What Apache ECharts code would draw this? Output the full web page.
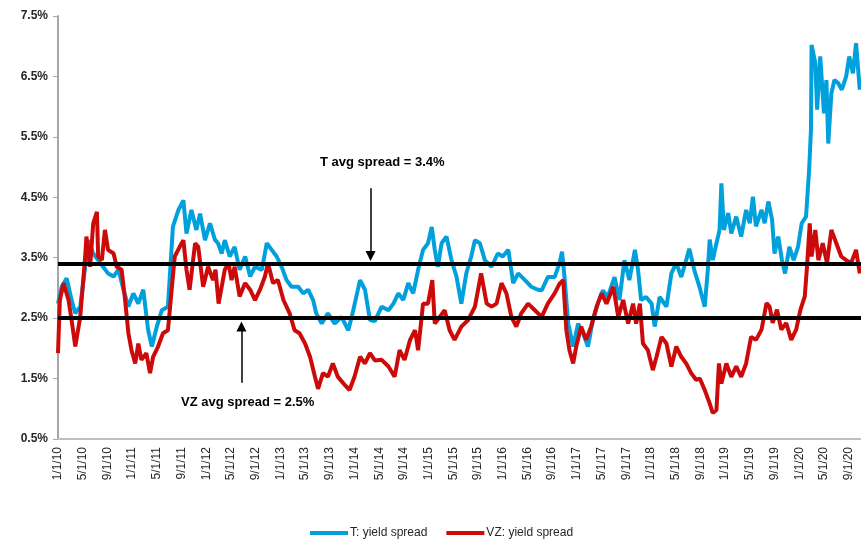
<!DOCTYPE html>
<html>
<head>
<meta charset="utf-8">
<script src="https://cdn.jsdelivr.net/npm/echarts@6/dist/echarts.min.js"></script>
<style>
html, body { margin: 0; padding: 0; background: #fff; }
#chart { width: 861px; height: 540px; }
</style>
</head>
<body>
<div id="chart"></div>
<script>
// x values are months counted from 1/1/10
const tMonth = [
  0, 0.6, 1.4, 2.2, 2.8, 3.6, 4.4, 4.9, 5.7, 6.5,
  7.3, 8.1, 9.0, 9.8, 10.6, 11.4, 12.2, 13.0, 13.8, 14.6,
  15.2, 16.0, 16.8, 17.8, 18.6, 19.5, 20.3, 20.8, 21.6, 22.4,
  23.0, 23.8, 24.6, 25.4, 25.9, 26.5, 27.0, 27.8, 28.6, 29.4,
  30.3, 31.1, 31.9, 33.0, 33.8, 34.6, 35.4, 36.2, 37.0, 37.8,
  38.9, 39.7, 40.5, 41.3, 41.8, 42.7, 43.7, 44.8, 45.9, 47.0,
  47.8, 48.9, 49.7, 50.5, 51.3, 52.4, 53.5, 54.3, 55.1, 55.9,
  56.7, 57.5, 58.3, 59.1, 59.9, 60.5, 61.0, 61.5, 62.1, 62.9,
  63.7, 64.5, 65.3, 66.1, 66.9, 67.5, 68.3, 69.1, 70.2, 71.2,
  72.0, 72.9, 73.7, 74.5, 75.6, 76.6, 77.7, 78.3, 79.3, 80.4,
  81.2, 81.6, 82.0, 82.6, 83.4, 84.2, 85.0, 85.8, 86.6, 87.4,
  88.2, 89.0, 90.1, 90.9, 91.7, 92.5, 93.4, 93.9, 94.4, 95.2,
  96.1, 96.6, 97.4, 98.5, 99.3, 100.1, 100.9, 101.7, 102.2, 103.0,
  103.9, 104.7, 105.2, 105.5, 106.0, 106.6, 107.1, 107.4, 107.8, 108.5,
  109.0, 109.8, 110.6, 111.4, 112.0, 112.5, 113.0, 113.9, 114.4, 115.0,
  115.6, 116.0, 116.6, 117.2, 117.7, 118.4, 119.1, 119.8, 120.4, 121.1,
  121.6, 121.9, 122.0, 122.6, 122.9, 123.4, 124.0, 124.4, 124.7, 125.2,
  125.7, 126.3, 126.9, 127.6, 128.1, 128.7, 129.2, 129.8
]
const tSpread = [
  2.74, 3.02, 3.16, 2.80, 2.58, 2.69, 3.35, 3.79, 3.57, 3.46,
  3.35, 3.24, 3.19, 3.30, 2.97, 2.69, 2.91, 2.74, 2.97, 2.30,
  2.03, 2.36, 2.63, 2.69, 4.01, 4.29, 4.45, 3.90, 4.29, 3.96,
  4.23, 3.79, 4.07, 3.80, 3.74, 3.57, 3.79, 3.52, 3.68, 3.30,
  3.52, 3.19, 3.35, 3.30, 3.74, 3.63, 3.52, 3.35, 3.13, 3.02,
  3.02, 2.91, 2.97, 2.80, 2.58, 2.41, 2.58, 2.41, 2.52, 2.30,
  2.63, 3.13, 2.97, 2.47, 2.45, 2.69, 2.63, 2.74, 2.91, 2.80,
  3.08, 2.91, 3.30, 3.63, 3.74, 4.01, 3.63, 3.35, 3.74, 3.85,
  3.46, 3.19, 2.74, 3.24, 3.52, 3.79, 3.74, 3.46, 3.35, 3.57,
  3.52, 3.63, 3.08, 3.24, 3.13, 3.02, 2.97, 2.96, 3.18, 3.18,
  3.41, 3.60, 3.18, 2.41, 2.03, 2.41, 2.25, 2.03, 2.47, 2.74,
  2.96, 2.85, 3.18, 2.80, 3.46, 3.13, 3.63, 3.30, 2.80, 2.85,
  2.74, 2.36, 2.85, 2.69, 3.24, 3.41, 3.18, 3.46, 3.65, 3.30,
  3.00, 2.69, 3.30, 3.80, 3.46, 3.74, 3.96, 4.73, 3.96, 4.24,
  3.90, 4.18, 3.85, 4.29, 4.07, 4.51, 4.02, 4.29, 4.07, 4.43,
  4.13, 3.57, 3.85, 3.46, 3.24, 3.68, 3.46, 3.68, 4.07, 4.18,
  4.95, 5.62, 7.02, 6.72, 5.95, 6.83, 5.89, 6.44, 5.39, 6.22,
  6.44, 6.39, 6.28, 6.50, 6.83, 6.55, 7.05, 6.28
]
const vzMonth = [
  0, 0.3, 0.9, 1.7, 2.2, 2.8, 3.6, 4.4, 4.6, 5.2,
  5.7, 6.3, 6.5, 7.1, 7.6, 8.1, 9.0, 9.5, 10.3, 10.8,
  11.4, 11.9, 12.5, 13.0, 13.5, 14.3, 14.9, 15.4, 16.2, 17.0,
  17.8, 18.4, 18.9, 19.7, 20.3, 20.8, 21.3, 22.2, 22.7, 23.5,
  24.3, 25.1, 25.5, 26.0, 27.0, 27.6, 28.1, 28.6, 29.4, 30.3,
  31.1, 31.9, 32.7, 33.5, 34.0, 34.8, 35.6, 36.5, 37.5, 38.3,
  39.1, 40.0, 40.8, 41.6, 42.1, 42.9, 43.7, 44.5, 45.3, 46.2,
  47.2, 48.0, 48.9, 49.7, 50.5, 51.3, 52.4, 53.5, 54.5, 55.3,
  56.1, 57.0, 57.8, 58.3, 59.1, 59.9, 60.6, 61.0, 61.8, 62.6,
  63.4, 64.2, 65.3, 66.4, 67.5, 68.5, 69.4, 70.2, 71.0, 71.8,
  72.6, 73.4, 74.2, 75.0, 76.1, 77.2, 78.3, 79.3, 80.4, 81.2,
  81.8, 82.3, 82.8, 83.4, 83.9, 84.7, 85.5, 86.3, 87.2, 88.0,
  88.8, 89.9, 90.7, 91.5, 92.3, 93.1, 93.6, 94.2, 94.7, 95.5,
  96.3, 96.9, 97.7, 98.5, 99.3, 100.1, 100.9, 101.7, 102.5, 103.3,
  103.9, 104.7, 105.5, 106.0, 106.6, 107.0, 107.4, 108.2, 109.0, 109.8,
  110.6, 111.4, 112.2, 113.0, 113.9, 114.7, 115.2, 115.7, 116.4, 117.1,
  117.9, 118.7, 119.5, 120.2, 120.9, 121.3, 121.7, 122.0, 122.6, 123.1,
  123.8, 124.5, 125.2, 126.0, 126.8, 127.6, 128.4, 129.2, 129.8
]
const vzSpread = [
  1.92, 2.80, 3.08, 2.80, 2.47, 2.03, 2.52, 3.52, 3.85, 3.35,
  4.07, 4.26, 3.52, 3.46, 3.96, 3.63, 3.57, 3.35, 3.30, 2.86,
  2.25, 1.97, 1.75, 2.08, 1.81, 1.92, 1.59, 1.86, 2.03, 2.25,
  2.30, 2.97, 3.52, 3.68, 3.79, 3.30, 2.97, 3.74, 3.68, 3.02,
  3.35, 3.13, 3.30, 2.74, 3.30, 3.41, 3.13, 3.35, 2.86, 3.08,
  2.97, 2.80, 2.97, 3.19, 3.41, 3.08, 3.13, 2.80, 2.58, 2.30,
  2.25, 2.08, 1.86, 1.53, 1.33, 1.59, 1.53, 1.75, 1.53, 1.42,
  1.31, 1.53, 1.86, 1.75, 1.92, 1.80, 1.81, 1.70, 1.53, 1.97,
  1.81, 2.14, 2.30, 1.97, 2.74, 2.74, 3.13, 2.41, 2.52, 2.63,
  2.30, 2.14, 2.36, 2.47, 2.69, 3.24, 2.74, 2.69, 2.74, 3.08,
  2.91, 2.52, 2.36, 2.58, 2.74, 2.63, 2.52, 2.74, 2.91, 3.07,
  3.13, 2.30, 1.97, 1.75, 2.03, 2.36, 2.14, 2.36, 2.69, 2.91,
  2.74, 3.02, 2.52, 2.80, 2.41, 2.74, 2.41, 2.74, 2.08, 1.97,
  1.64, 1.86, 2.19, 2.08, 1.70, 2.03, 1.86, 1.75, 1.59, 1.48,
  1.50, 1.31, 1.09, 0.93, 0.98, 1.75, 1.42, 1.75, 1.53, 1.70,
  1.53, 1.75, 2.19, 2.14, 2.31, 2.75, 2.69, 2.42, 2.64, 2.31,
  2.42, 2.14, 2.31, 2.64, 2.86, 3.41, 4.07, 3.52, 3.96, 3.46,
  3.74, 3.41, 3.96, 3.74, 3.52, 3.46, 3.41, 3.63, 3.24
]

// tick labels
const xTickMonths = [0, 4, 8, 12, 16, 20, 24, 28, 32, 36, 40, 44, 48, 52, 56, 60, 64,
  68, 72, 76, 80, 84, 88, 92, 96, 100, 104, 108, 112, 116, 120, 124, 128]
const yTicks = [0.5, 1.5, 2.5, 3.5, 4.5, 5.5, 6.5, 7.5]

// average lines and their notes
const tAvg = 3.4
const vzAvg = 2.5
const tNote = { text: 'T avg spread = 3.4%', at: [52.5, 5.08], arrowFrom: [50.6, 4.65], arrowTo: [50.6, 3.53] }
const vzNote = { text: 'VZ avg spread = 2.5%', at: [30.7, 1.11], arrowFrom: [29.7, 1.43], arrowTo: [29.7, 2.36] }

const zip = (xs, ys) => xs.map((x, i) => [x, ys[i]])
const monthLabel = m => ((m % 12) + 1) + '/1/' + (10 + Math.floor(m / 12))

const noteStyle = {
  show: true,
  color: '#000',
  fontSize: 13,
  fontWeight: 'bold',
  fontFamily: 'Liberation Sans, Arial, sans-serif'
}

const chart = echarts.init(document.getElementById('chart'))
chart.setOption({
  animation: false,
  backgroundColor: '#fff',
  textStyle: { fontFamily: 'Liberation Sans, Arial, sans-serif' },
  grid: { left: 58, right: 0, top: 16, bottom: 101 },
  legend: {
    data: ['T: yield spread', 'VZ: yield spread'],
    left: 305,
    top: 522,
    icon: 'rect',
    itemWidth: 38,
    itemHeight: 4,
    itemGap: 19,
    textStyle: { fontSize: 12, color: '#262626', padding: [0, 0, 0, -3] }
  },
  xAxis: {
    type: 'value',
    min: 0,
    max: 130,
    splitLine: { show: false },
    axisLine: { show: true, lineStyle: { color: '#bfbfbf', width: 2 } },
    axisTick: { show: false },
    axisLabel: {
      customValues: xTickMonths,
      formatter: monthLabel,
      rotate: 90,
      fontSize: 12,
      color: '#262626',
      margin: 8
    }
  },
  yAxis: {
    type: 'value',
    min: 0.5,
    max: 7.5,
    splitLine: { show: false },
    axisLine: { show: true, lineStyle: { color: '#a6a6a6', width: 2 } },
    axisTick: { show: true, customValues: yTicks, length: 5, lineStyle: { color: '#a6a6a6' } },
    axisLabel: {
      customValues: yTicks,
      formatter: v => v.toFixed(1) + '%',
      fontSize: 12,
      fontWeight: 'bold',
      color: '#262626',
      margin: 10
    }
  },
  series: [
    {
      name: 'T: yield spread',
      type: 'line',
      data: zip(tMonth, tSpread),
      showSymbol: false,
      color: '#00a0dc',
      lineStyle: { width: 4, color: '#00a0dc' }
    },
    {
      name: 'VZ: yield spread',
      type: 'line',
      data: zip(vzMonth, vzSpread),
      showSymbol: false,
      color: '#cc0a0a',
      lineStyle: { width: 4, color: '#cc0a0a' }
    },
    {
      name: 'avg',
      type: 'line',
      data: [],
      z: 5,
      markLine: {
        silent: true,
        symbol: 'none',
        label: { show: false },
        lineStyle: { color: '#000', width: 4, type: 'solid' },
        data: [{ yAxis: tAvg }, { yAxis: vzAvg }]
      }
    },
    {
      name: 'notes',
      type: 'line',
      data: [],
      z: 6,
      markLine: {
        silent: true,
        label: { show: false },
        lineStyle: { color: '#000', width: 1.5, type: 'solid' },
        data: [
          [{ coord: tNote.arrowFrom, symbol: 'none' }, { coord: tNote.arrowTo, symbol: 'triangle', symbolSize: [10, 10] }],
          [{ coord: vzNote.arrowFrom, symbol: 'none' }, { coord: vzNote.arrowTo, symbol: 'triangle', symbolSize: [10, 10] }]
        ]
      },
      markPoint: {
        silent: true,
        symbolSize: 0,
        data: [
          { coord: tNote.at, label: Object.assign({ formatter: tNote.text }, noteStyle) },
          { coord: vzNote.at, label: Object.assign({ formatter: vzNote.text }, noteStyle) }
        ]
      }
    }
  ]
})
</script>
</body>
</html>
